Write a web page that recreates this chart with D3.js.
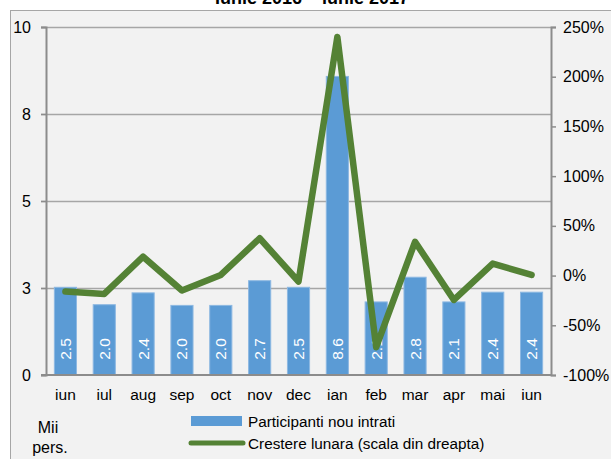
<!doctype html>
<html>
<head>
<meta charset="utf-8">
<style>
html,body{margin:0;padding:0;background:#fff;overflow:hidden;}
text{font-family:"Liberation Sans",Arial,sans-serif;}
</style>
<script src="https://cdn.jsdelivr.net/npm/d3@7"></script>
</head>
<body>
<script>
// luni iunie 2016 - iunie 2017
var months = ["iun","iul","aug","sep","oct","nov","dec","ian","feb","mar","apr","mai","iun"];
var participants = [2.52, 2.02, 2.36, 2.0, 2.0, 2.71, 2.52, 8.58, 2.1, 2.81, 2.1, 2.38, 2.38];
var barLabels = ["2.5","2.0","2.4","2.0","2.0","2.7","2.5","8.6","2.1","2.8","2.1","2.4","2.4"];
var growth = [-16, -18.5, 19, -15, 0.6, 37.5, -6, 240, -72, 34, -24.5, 12, 0.6];
var leftTicks = [0, 2.5, 5, 7.5, 10];
var leftTickLabels = ["0","3","5","8","10"];
var rightTicks = [-100, -50, 0, 50, 100, 150, 200, 250];

var W = 611, H = 459;
var x0 = 46, x1 = 551, yTop = 27, yBot = 375;

var svg = d3.select("body").append("svg")
    .attr("width", W).attr("height", H);

// frame
svg.append("rect")
    .attr("x", 10.5).attr("y", 10.5)
    .attr("width", W).attr("height", H)
    .attr("fill", "#f2f2f2").attr("stroke", "#a6a6a6");

svg.append("text")
    .attr("x", 312).attr("y", 4)
    .attr("text-anchor", "middle")
    .attr("font-weight", "bold").attr("font-size", 18)
    .text("Iunie 2016 \u2013 iunie 2017");

var x = d3.scaleBand().domain(d3.range(months.length)).range([x0, x1]).paddingInner(0.43).paddingOuter(0.215);
var xc = d3.scaleBand().domain(d3.range(months.length)).range([x0, x1]);
var yL = d3.scaleLinear().domain([0, 10]).range([yBot, yTop]);
var yR = d3.scaleLinear().domain([-100, 250]).range([yBot, yTop]);

// gridlines
svg.append("g").selectAll("line").data(leftTicks.slice(1)).join("line")
    .attr("x1", x0 - 5).attr("x2", x1)
    .attr("y1", function(d){return Math.round(yL(d)) + 0.5;})
    .attr("y2", function(d){return Math.round(yL(d)) + 0.5;})
    .attr("stroke", "#a6a6a6").attr("stroke-width", 1.5);

// bars
svg.append("g").selectAll("rect").data(participants).join("rect")
    .attr("x", function(d, i){return x(i);})
    .attr("width", x.bandwidth())
    .attr("y", function(d){return yL(d);})
    .attr("height", function(d){return yBot - yL(d);})
    .attr("fill", "#5b9bd5")
    .attr("stroke", "#8db8e2").attr("stroke-width", 1);

// bar labels
svg.append("g").selectAll("text").data(barLabels).join("text")
    .attr("transform", function(d, i){return "translate(" + (x(i) + x.bandwidth()/2 + 5.5) + ",349) rotate(-90)";})
    .attr("text-anchor", "middle")
    .attr("fill", "#fff").attr("font-size", 15.5)
    .text(function(d){return d;});

// left axis
var gl = svg.append("g").attr("transform", "translate(" + x0 + ",0)")
    .call(d3.axisLeft(yL).tickValues(leftTicks).tickSize(5).tickPadding(10)
        .tickFormat(function(d, i){return leftTickLabels[i];}));
gl.select(".domain").attr("stroke", "#8c8c8c").attr("stroke-width", 2);
gl.selectAll(".tick line").attr("stroke", "#8c8c8c").attr("stroke-width", 1.5);
gl.selectAll(".tick text").attr("font-size", 16).attr("fill", "#000")
    .attr("font-family", "Liberation Sans, Arial, sans-serif");

// right axis
var gr = svg.append("g").attr("transform", "translate(" + x1 + ",0)")
    .call(d3.axisRight(yR).tickValues(rightTicks).tickSize(5).tickPadding(7)
        .tickFormat(function(d){return d + "%";}));
gr.select(".domain").attr("stroke", "#8c8c8c").attr("stroke-width", 2);
gr.selectAll(".tick line").attr("stroke", "#8c8c8c").attr("stroke-width", 1.5);
gr.selectAll(".tick text").attr("font-size", 16).attr("fill", "#000")
    .attr("font-family", "Liberation Sans, Arial, sans-serif");

// bottom axis
var gb = svg.append("g").attr("transform", "translate(0," + yBot + ")")
    .call(d3.axisBottom(xc).tickSize(0).tickPadding(14)
        .tickFormat(function(d){return months[d];}));
gb.select(".domain").attr("stroke", "#8c8c8c").attr("stroke-width", 2)
    .attr("d", "M" + (x0 - 5) + ",0H" + x1);
gb.selectAll(".tick text").attr("font-size", 15.5).attr("fill", "#000")
    .attr("font-family", "Liberation Sans, Arial, sans-serif");

// growth line
var line = d3.line()
    .x(function(d, i){return xc(i) + xc.bandwidth()/2;})
    .y(function(d){return yR(d);});
svg.append("path").datum(growth)
    .attr("d", line)
    .attr("fill", "none").attr("stroke", "#548235")
    .attr("stroke-width", 6.5).attr("stroke-linejoin", "round").attr("stroke-linecap", "round");

// legend
var lg = svg.append("g");
lg.append("rect").attr("x", 191).attr("y", 416).attr("width", 51).attr("height", 10).attr("fill", "#5b9bd5");
lg.append("text").attr("x", 248).attr("y", 427).attr("font-size", 15.3).text("Participanti nou intrati");
lg.append("line").attr("x1", 191).attr("x2", 243).attr("y1", 443).attr("y2", 443)
    .attr("stroke", "#548235").attr("stroke-width", 5).attr("stroke-linecap", "round");
lg.append("text").attr("x", 248).attr("y", 449).attr("font-size", 15.3).text("Crestere lunara (scala din dreapta)");

svg.append("text").attr("x", 48).attr("y", 433).attr("text-anchor", "middle").attr("font-size", 16).text("Mii");
svg.append("text").attr("x", 50).attr("y", 453).attr("text-anchor", "middle").attr("font-size", 16).text("pers.");
</script>
</body>
</html>
